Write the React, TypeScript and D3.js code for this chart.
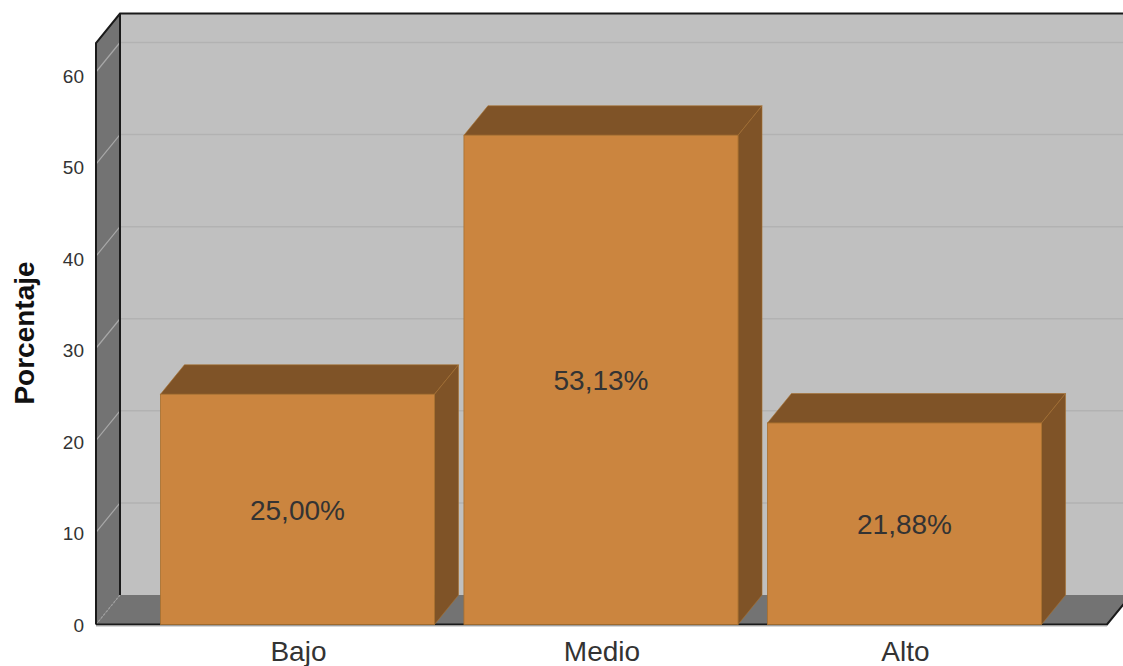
import React from "react";
import * as d3 from "d3";

const categories = ["Bajo", "Medio", "Alto"];
const values = [25.0, 53.13, 21.88];
const valueLabels = ["25,00%", "53,13%", "21,88%"];
const yTicks = [0, 10, 20, 30, 40, 50, 60];

const WIDTH = 1123;
const HEIGHT = 666;
const FRONT_LEFT = 96;
const FRONT_RIGHT = 1107;
const BASE_Y = 624.5;
const TOP_Y = 43;
const DX = 24;
const DY = 29.5;
const FONT = "'Liberation Sans', Arial, sans-serif";

const BAR_FRONT = "#cb853f";
const BAR_SIDE = "#7f5327";
const BAR_EDGE = "#a8702f";
const WALL = "#c0c0c0";
const SIDE_WALL = "#737373";
const GRID = "#b2b2b2";
const FRAME = "#1a1a1a";

export default function App() {
  const y = d3.scaleLinear().domain([0, 60]).range([BASE_Y, 72]);
  // Tick labels sit slightly below their tick, a little more so towards the top.
  const yLabel = d3.scaleLinear().domain([0, 60]).range([BASE_Y + 7.5, 82.5]);
  const x = d3
    .scaleBand<string>()
    .domain(categories)
    .range([FRONT_LEFT, FRONT_RIGHT])
    .paddingInner(0.097)
    .paddingOuter(0.214)
    .align(0.496);

  const pts = (p: [number, number][]) => p.map((d) => d.join(",")).join(" ");

  return (
    <svg
      width={WIDTH}
      height={HEIGHT}
      viewBox={`0 0 ${WIDTH} ${HEIGHT}`}
      style={{ position: "absolute", left: 0, top: 0, background: "#fff" }}
      fontFamily={FONT}
    >
      {/* Back wall */}
      <rect
        x={FRONT_LEFT + DX}
        y={TOP_Y - DY}
        width={WIDTH - FRONT_LEFT - DX}
        height={BASE_Y - TOP_Y}
        fill={WALL}
      />
      {/* Left wall */}
      <polygon
        points={pts([
          [FRONT_LEFT, TOP_Y],
          [FRONT_LEFT + DX, TOP_Y - DY],
          [FRONT_LEFT + DX, BASE_Y - DY],
          [FRONT_LEFT, BASE_Y],
        ])}
        fill={SIDE_WALL}
      />
      {/* Floor */}
      <polygon
        points={pts([
          [FRONT_LEFT, BASE_Y],
          [FRONT_LEFT + DX, BASE_Y - DY],
          [FRONT_RIGHT + DX, BASE_Y - DY],
          [FRONT_RIGHT, BASE_Y],
        ])}
        fill={SIDE_WALL}
      />

      {/* Grid lines wrap from the left wall onto the back wall */}
      {yTicks.map((t) => (
        <g key={t}>
          {t > 0 && (
            <line
              x1={FRONT_LEFT + DX}
              x2={WIDTH}
              y1={y(t) - DY}
              y2={y(t) - DY}
              stroke={GRID}
              strokeWidth={1.5}
            />
          )}
          <line
            x1={FRONT_LEFT}
            x2={FRONT_LEFT + DX}
            y1={y(t)}
            y2={y(t) - DY}
            stroke={t === 0 ? "#a0a0a0" : "#a8a8a8"}
            strokeWidth={1.2}
            strokeDasharray={t === 0 ? "2 2" : undefined}
          />
          <text
            x={84}
            y={yLabel(t)}
            textAnchor="end"
            fontSize={19}
            fill="#333"
          >
            {t}
          </text>
        </g>
      ))}

      {/* Frame edges */}
      <path
        d={`M${FRONT_LEFT},${BASE_Y} V${TOP_Y} L${FRONT_LEFT + DX},${TOP_Y - DY} H${WIDTH}`}
        fill="none"
        stroke={FRAME}
        strokeWidth={2}
      />
      <line
        x1={FRONT_LEFT + DX}
        x2={FRONT_LEFT + DX}
        y1={TOP_Y - DY}
        y2={BASE_Y - DY}
        stroke={FRAME}
        strokeWidth={2}
      />
      <path
        d={`M${FRONT_LEFT},${BASE_Y} H${FRONT_RIGHT} L${FRONT_RIGHT + DX},${BASE_Y - DY}`}
        fill="none"
        stroke={FRAME}
        strokeWidth={2}
      />
      <line x1={FRONT_LEFT} x2={FRONT_RIGHT} y1={BASE_Y + 1.5} y2={BASE_Y + 1.5} stroke="#b0b0b0" strokeWidth={1} />

      {/* Bars, each with a top and a right face */}
      {categories.map((c, i) => {
        const x0 = x(c) as number;
        const x1 = x0 + x.bandwidth();
        const top = y(values[i]);
        return (
          <g key={c}>
            <polygon
              points={pts([
                [x0, top],
                [x0 + DX, top - DY],
                [x1 + DX, top - DY],
                [x1, top],
              ])}
              fill={BAR_SIDE}
              stroke={BAR_EDGE}
              strokeWidth={0.6}
            />
            <polygon
              points={pts([
                [x1, top],
                [x1 + DX, top - DY],
                [x1 + DX, BASE_Y - DY],
                [x1, BASE_Y],
              ])}
              fill={BAR_SIDE}
              stroke={BAR_EDGE}
              strokeWidth={0.6}
            />
            <rect
              x={x0}
              y={top}
              width={x.bandwidth()}
              height={BASE_Y - top}
              fill={BAR_FRONT}
              stroke={BAR_EDGE}
              strokeWidth={0.8}
            />
            <text
              x={(x0 + x1) / 2}
              y={(top + BASE_Y) / 2 + 10.5}
              textAnchor="middle"
              fontSize={28}
              fill="#333"
            >
              {valueLabels[i]}
            </text>
            <text
              x={(x0 + x1) / 2 + 1}
              y={661}
              textAnchor="middle"
              fontSize={28}
              fill="#333"
            >
              {c}
            </text>
          </g>
        );
      })}

      {/* Value axis title */}
      <text
        transform="translate(34,333) rotate(-90)"
        textAnchor="middle"
        fontSize={28}
        fontWeight="bold"
        fill="#111"
      >
        Porcentaje
      </text>
    </svg>
  );
}
